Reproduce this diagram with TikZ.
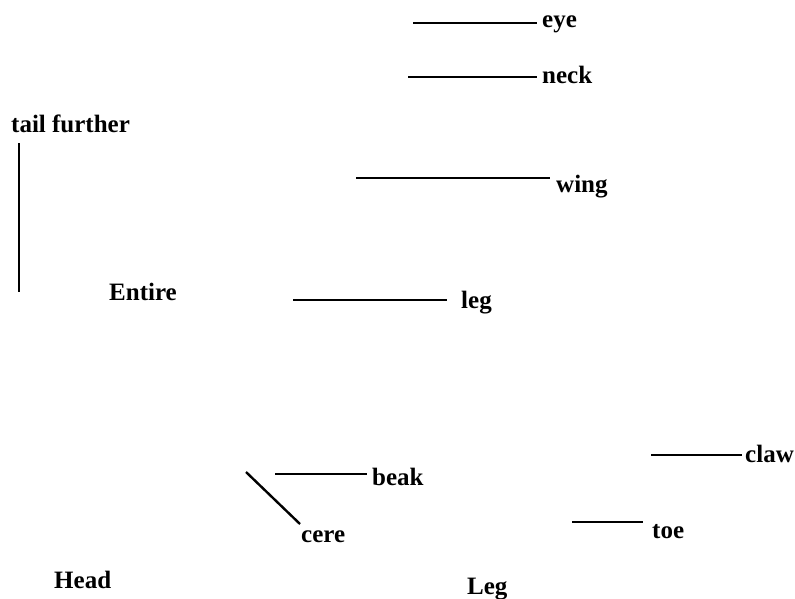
\documentclass[tikz,border=0pt]{standalone}
\usepackage{fontspec}
\setmainfont{Liberation Serif}
\begin{document}
\begin{tikzpicture}[x=1pt,y=-1pt,
  lbl/.style={anchor=base west,inner sep=0pt,font=\fontsize{25}{30}\selectfont\bfseries},
  ln/.style={line width=2.4pt}]
\useasboundingbox (0,0) rectangle (795,598);
% labels
\node[lbl] (eye) at (542,27) {eye};
\node[lbl] (neck) at (542,83) {neck};
\node[lbl] (tail) at (11,132) {tail further};
\node[lbl] (wing) at (556,192) {wing};
\node[lbl] (entire) at (109,300) {Entire};
\node[lbl] (leg) at (461,308) {leg};
\node[lbl] (claw) at (745,462) {claw};
\node[lbl] (beak) at (372,485) {beak};
\node[lbl] (toe) at (652,538) {toe};
\node[lbl] (cere) at (301,542) {cere};
\node[lbl] (head) at (54,588) {Head};
\node[lbl] (legb) at (467,594) {Leg};
% connector ends
\coordinate (eyeA) at (413,23);  \coordinate (eyeB) at (537,23);
\coordinate (neckA) at (408,77); \coordinate (neckB) at (537,77);
\coordinate (tailA) at (19,143); \coordinate (tailB) at (19,292);
\coordinate (wingA) at (356,178); \coordinate (wingB) at (550,178);
\coordinate (legA) at (293,300); \coordinate (legB) at (447,300);
\coordinate (beakA) at (275,474); \coordinate (beakB) at (367,474);
\coordinate (cereA) at (246,472); \coordinate (cereB) at (300,524);
\coordinate (clawA) at (651,455); \coordinate (clawB) at (742,455);
\coordinate (toeA) at (572,522); \coordinate (toeB) at (643,522);
% connectors
\draw[ln] (eyeA) -- (eyeB);
\draw[ln] (neckA) -- (neckB);
\draw[ln] (tailA) -- (tailB);
\draw[ln] (wingA) -- (wingB);
\draw[ln] (legA) -- (legB);
\draw[ln] (beakA) -- (beakB);
\draw[ln] (cereA) -- (cereB);
\draw[ln] (clawA) -- (clawB);
\draw[ln] (toeA) -- (toeB);
\end{tikzpicture}
\end{document}
